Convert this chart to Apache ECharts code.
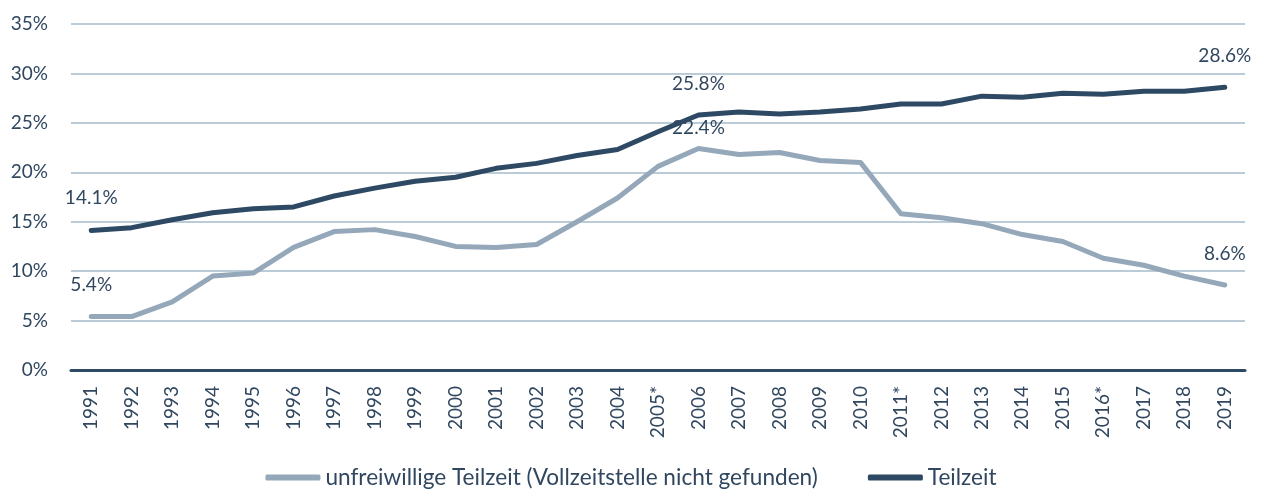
<!DOCTYPE html>
<html>
<head>
<meta charset="utf-8">
<script src="https://cdn.jsdelivr.net/npm/echarts@6/dist/echarts.min.js"></script>
<style>
  html, body { margin: 0; padding: 0; background: #fff; }
  #chart { width: 1262px; height: 494px; }
</style>
</head>
<body>
<div id="chart"></div>
<script>
// Jahre (* = Bruch in der Zeitreihe)
var years = ["1991", "1992", "1993", "1994", "1995", "1996", "1997", "1998", "1999", "2000",
  "2001", "2002", "2003", "2004", "2005*", "2006", "2007", "2008", "2009", "2010",
  "2011*", "2012", "2013", "2014", "2015", "2016*", "2017", "2018", "2019"];

// unfreiwillige Teilzeit in %
var unfreiwillig = [5.4, 5.4, 6.9, 9.5, 9.8, 12.4, 14.0, 14.2, 13.5, 12.5,
  12.4, 12.7, 15.0, 17.4, 20.6, 22.4, 21.8, 22.0, 21.2, 21.0,
  15.8, 15.4, 14.8, 13.7, 13.0, 11.3, 10.6, 9.5, 8.6];

// Teilzeitquote in %
var teilzeit = [14.1, 14.4, 15.2, 15.9, 16.3, 16.5, 17.6, 18.4, 19.1, 19.5,
  20.4, 20.9, 21.7, 22.3, 24.1, 25.8, 26.1, 25.9, 26.1, 26.4,
  26.9, 26.9, 27.7, 27.6, 28.0, 27.9, 28.2, 28.2, 28.6];

var yTicks = [0, 5, 10, 15, 20, 25, 30, 35];
var labelIdx = [0, 15, 28];

var txtColor = "#30475f";
var darkColor = "#2e4963";
var lightColor = "#94a8ba";
var font = "Lato";

function withLabels(arr, distances) {
  return arr.map(function (v, i) {
    var k = labelIdx.indexOf(i);
    if (k < 0) return v;
    return {
      value: v,
      label: {
        show: true,
        position: "top",
        distance: distances[k],
        formatter: function (p) { return p.value.toFixed(1) + "%"; },
        color: txtColor,
        fontFamily: font,
        fontSize: 19
      }
    };
  });
}

var chart = echarts.init(document.getElementById("chart"));
var option = {
  animation: false,
  textStyle: { fontFamily: font, color: txtColor },
  grid: { left: 71, right: 17, top: 24, bottom: 124 },
  legend: {
    bottom: 0,
    left: "center",
    itemWidth: 55,
    itemHeight: 6,
    itemGap: 50,
    icon: "roundRect",
    textStyle: { color: txtColor, fontSize: 22.6, fontFamily: font },
    data: ["unfreiwillige Teilzeit (Vollzeitstelle nicht gefunden)", "Teilzeit"]
  },
  xAxis: {
    type: "category",
    data: years,
    boundaryGap: true,
    axisLine: { show: true, lineStyle: { color: darkColor, width: 3 } },
    axisTick: { show: false },
    axisLabel: {
      interval: 0,
      rotate: 90,
      margin: 16,
      color: txtColor,
      fontSize: 19,
      fontFamily: font
    }
  },
  yAxis: {
    type: "value",
    min: yTicks[0],
    max: yTicks[yTicks.length - 1],
    interval: 5,
    axisLine: { show: false },
    axisTick: { show: false },
    axisLabel: {
      margin: 23,
      color: txtColor,
      fontSize: 19,
      fontFamily: font,
      formatter: "{value}%"
    },
    splitLine: { lineStyle: { color: "#bccbd8", width: 2 } }
  },
  series: [
    {
      name: "unfreiwillige Teilzeit (Vollzeitstelle nicht gefunden)",
      type: "line",
      data: withLabels(unfreiwillig, [21, 10, 21]),
      color: lightColor,
      symbol: "circle",
      symbolSize: 2,
      showAllSymbol: true,
      lineStyle: { width: 5, color: lightColor, cap: "round", join: "round" },
      itemStyle: { color: lightColor }
    },
    {
      name: "Teilzeit",
      type: "line",
      data: withLabels(teilzeit, [22, 21, 21]),
      color: darkColor,
      symbol: "circle",
      symbolSize: 2,
      showAllSymbol: true,
      lineStyle: { width: 5, color: darkColor, cap: "round", join: "round" },
      itemStyle: { color: darkColor }
    }
  ]
};
chart.setOption(option);
</script>
</body>
</html>
